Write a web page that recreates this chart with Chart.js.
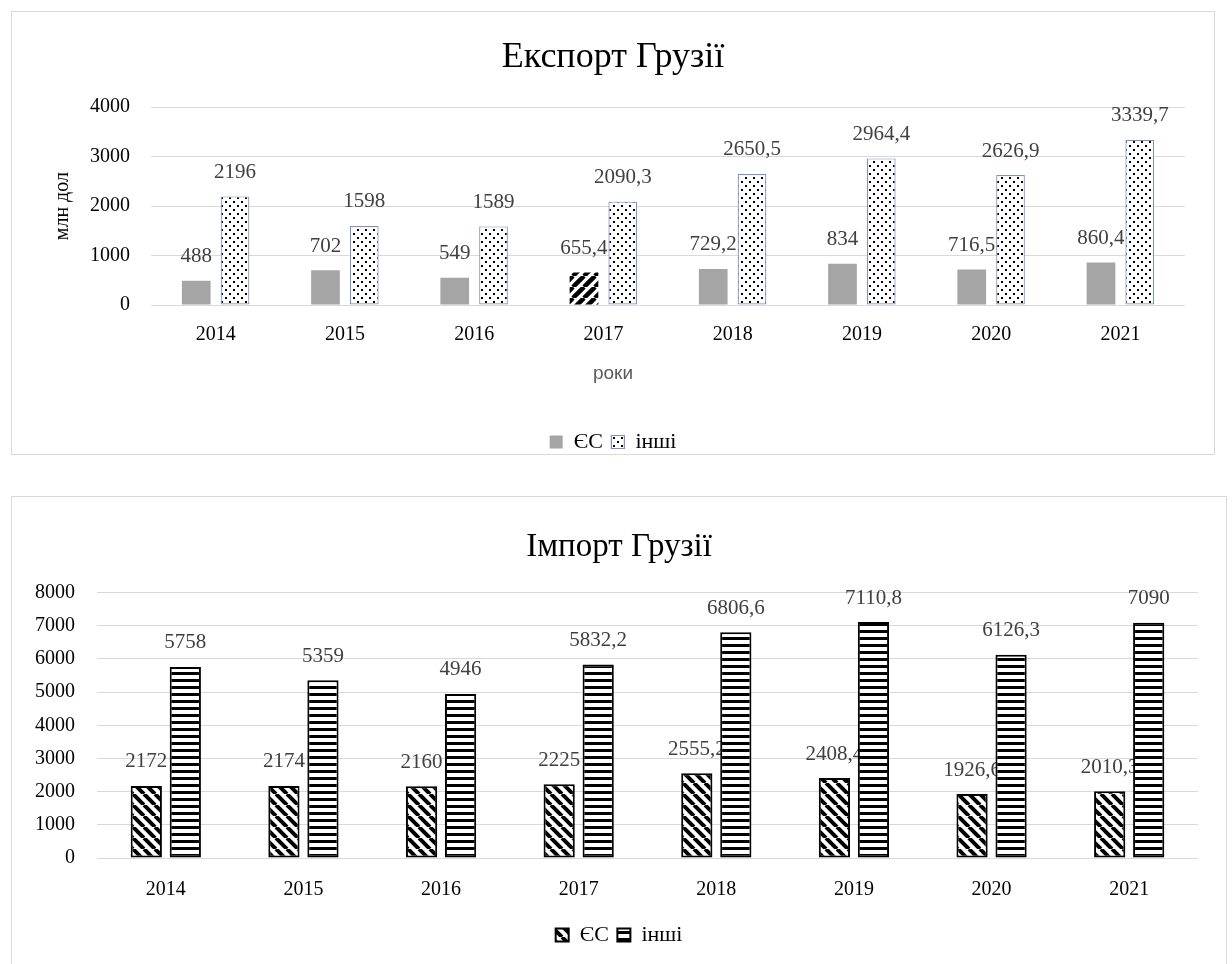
<!DOCTYPE html>
<html>
<head>
<meta charset="utf-8">
<script src="https://cdn.jsdelivr.net/npm/chart.js@4.4.1/dist/chart.umd.min.js"></script>
<style>
  body { margin: 0; background: #fff; }
  .box { position: absolute; border: 1px solid #d9d9d9; background: #fff; overflow: hidden; }
  #boxExport { left: 11px; top: 11px; width: 1202px; height: 442px; }
  #boxImport { left: 11px; top: 496px; width: 1214px; height: 470px; }
  canvas { display: block; }
</style>
</head>
<body>
<div class="box" id="boxExport"><canvas id="chartExport" width="1202" height="451"></canvas></div>
<div class="box" id="boxImport"><canvas id="chartImport" width="1214" height="470"></canvas></div>
<script>
// Data (млн дол)
const years = ["2014", "2015", "2016", "2017", "2018", "2019", "2020", "2021"];
const exportEU = [488, 702, 549, 655.4, 729.2, 834, 716.5, 860.4];
const exportOther = [2196, 1598, 1589, 2090.3, 2650.5, 2964.4, 2626.9, 3339.7];
const importEU = [2172, 2174, 2160, 2225, 2555.2, 2408.4, 1926.6, 2010.3];
const importOther = [5758, 5359, 4946, 5832.2, 6806.6, 7110.8, 6126.3, 7090];
const exportTicks = [0, 1000, 2000, 3000, 4000];
const importTicks = [0, 1000, 2000, 3000, 4000, 5000, 6000, 7000, 8000];

const SERIF = "'Liberation Serif', 'Times New Roman', serif";
Chart.defaults.font.family = SERIF;
Chart.defaults.color = "#000";

// pattern helpers
function makePattern(w, h, draw) {
  const c = document.createElement("canvas");
  c.width = w; c.height = h;
  const ctx = c.getContext("2d");
  ctx.fillStyle = "#fff";
  ctx.fillRect(0, 0, w, h);
  ctx.fillStyle = "#000";
  ctx.strokeStyle = "#000";
  draw(ctx, w, h);
  return ctx.createPattern(c, "repeat");
}

const dots = makePattern(8, 8, ctx => {
  ctx.fillRect(1, 1, 2, 2);
  ctx.fillRect(5, 5, 2, 2);
});

function diagonal(size, width, forward) {
  return makePattern(size, size, ctx => {
    ctx.lineWidth = width;
    ctx.beginPath();
    for (let k = -1; k <= 1; k++) {
      if (forward) {
        ctx.moveTo(k * size, size); ctx.lineTo(k * size + size, 0);
      } else {
        ctx.moveTo(k * size, 0); ctx.lineTo(k * size + size, size);
      }
    }
    ctx.stroke();
  });
}
const slashWide = diagonal(11, 4.5, true);
const backslash = diagonal(11, 4, false);

const hstripes = makePattern(4, 7, ctx => {
  ctx.fillRect(0, 0, 4, 3);
});

const fmt = v => String(v).replace(".", ",");

// value labels drawn under the bars (so the next bar may cover them, as in Excel)
const valueLabels = {
  id: "valueLabels",
  beforeDatasetsDraw(chart) {
    const ctx = chart.ctx;
    ctx.save();
    ctx.font = "21px " + SERIF;
    ctx.fillStyle = "#404040";
    ctx.textAlign = "center";
    ctx.textBaseline = "middle";
    chart.data.datasets.forEach((ds, i) => {
      chart.getDatasetMeta(i).data.forEach((bar, j) => {
        ctx.fillText(fmt(ds.data[j]), bar.x, bar.y - 24);
      });
    });
    ctx.restore();
  }
};

// centred note under the axis ("роки")
const axisNote = {
  id: "axisNote",
  afterDraw(chart, args, opts) {
    if (!opts.text) return;
    const ctx = chart.ctx;
    ctx.save();
    ctx.font = "19px 'Liberation Sans', sans-serif";
    ctx.fillStyle = "#595959";
    ctx.textAlign = "center";
    ctx.textBaseline = "middle";
    ctx.fillText(opts.text, chart.width / 2, opts.y);
    ctx.restore();
  }
};

// legend entries with a little extra space after each name
function legendLabels(chart) {
  const items = Chart.defaults.plugins.legend.labels.generateLabels(chart);
  items.forEach((it, i) => { if (i < items.length - 1) it.text += " "; });
  return items;
}

function buildChart(canvasId, cfg) {
  return new Chart(document.getElementById(canvasId), {
    type: "bar",
    data: {
      labels: years,
      datasets: [
        { label: "ЄС", data: cfg.eu, backgroundColor: cfg.euFill, borderColor: cfg.euBorder, borderWidth: cfg.euBorderWidth, borderSkipped: false,
          categoryPercentage: cfg.cat, barPercentage: cfg.bar },
        { label: "інші", data: cfg.other, backgroundColor: cfg.otherFill, borderColor: cfg.otherBorder, borderWidth: cfg.otherBorderWidth, borderSkipped: false,
          categoryPercentage: cfg.cat, barPercentage: cfg.bar }
      ]
    },
    options: {
      responsive: false,
      animation: false,
      layout: { padding: cfg.padding },
      plugins: {
        tooltip: { enabled: false },
        title: {
          display: true, text: cfg.title,
          font: { family: SERIF, size: cfg.titleSize, weight: "normal" }, color: "#000",
          padding: cfg.titlePadding
        },
        legend: {
          position: "bottom",
          labels: { boxWidth: 13, boxHeight: 13, padding: 3, font: { family: SERIF, size: 22 }, color: "#000",
            generateLabels: legendLabels }
        },
        axisNote: { text: cfg.note, y: cfg.noteY }
      },
      scales: {
        x: {
          grid: { display: false },
          border: { display: false },
          ticks: { font: { family: SERIF, size: 20 }, padding: cfg.xPad, color: "#000" },
          afterFit: s => { s.height = cfg.xHeight; }
        },
        y: {
          min: 0,
          max: cfg.ticks[cfg.ticks.length - 1],
          afterBuildTicks: s => { s.ticks = cfg.ticks.map(v => ({ value: v })); },
          grid: { color: "#d9d9d9", drawTicks: false },
          border: { display: false },
          ticks: { font: { family: SERIF, size: 20 }, padding: cfg.yPad, color: "#000", callback: v => String(v) },
          title: cfg.yTitle
            ? { display: true, text: cfg.yTitle, font: { family: SERIF, size: 20 }, color: "#000", padding: { top: 39, bottom: 0 } }
            : { display: false },
          afterFit: s => { s.width = cfg.yWidth; }
        },
        // empty right-hand axis, only keeps the white margin right of the plot
        yRight: {
          position: "right",
          grid: { display: false },
          border: { display: false },
          ticks: { display: false },
          afterFit: s => { s.width = cfg.rightGap; }
        }
      }
    },
    plugins: [valueLabels, axisNote]
  });
}

// Export chart
buildChart("chartExport", {
  title: "Експорт Грузії", titleSize: 36,
  eu: exportEU, other: exportOther, ticks: exportTicks,
  euFill: years.map(y => y === "2017" ? slashWide : "#a5a5a5"),
  euBorder: "#a5a5a5", euBorderWidth: 0,
  otherFill: dots, otherBorder: "#7d93bb", otherBorderWidth: 1.2,
  cat: 0.6, bar: 0.74,
  padding: { top: 0, left: 0, right: 0, bottom: 0 },
  titlePadding: { top: 24, bottom: 28 },
  xHeight: 123, xPad: 10,
  yWidth: 139, yPad: 21, yTitle: "млн дол", rightGap: 29,
  note: "роки", noteY: 362
});

// Import chart
buildChart("chartImport", {
  title: "Імпорт Грузії", titleSize: 33,
  eu: importEU, other: importOther, ticks: importTicks,
  euFill: backslash, euBorder: "#000", euBorderWidth: 2,
  otherFill: hstripes, otherBorder: "#000", otherBorderWidth: 2,
  cat: 0.567, bar: 0.8,
  padding: { top: 0, left: 0, right: 0, bottom: 11 },
  titlePadding: { top: 31, bottom: 25 },
  xHeight: 63, xPad: 12,
  yWidth: 85, yPad: 22, yTitle: null, rightGap: 28,
  note: null
});
</script>
</body>
</html>
